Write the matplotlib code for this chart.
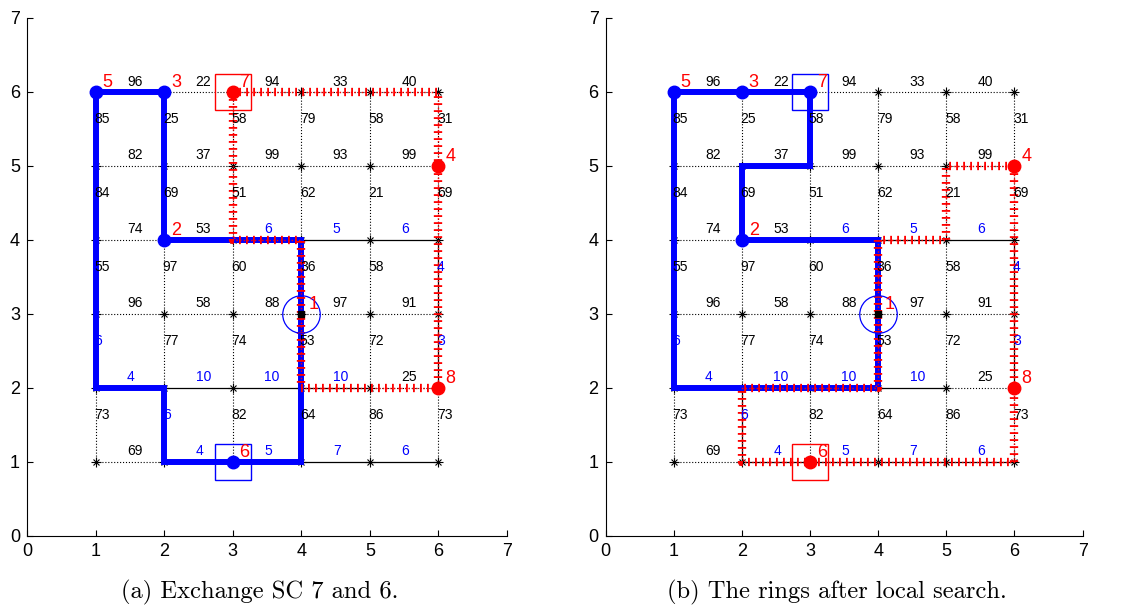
"""Two panels: distribution rings before and after the local search."""
import matplotlib
matplotlib.use('Agg')
import matplotlib.pyplot as plt

plt.rcParams['font.family'] = ['Liberation Sans', 'DejaVu Sans']

# grid nodes
grid_x = [1, 2, 3, 4, 5, 6]
grid_y = [1, 2, 3, 4, 5, 6]

# horizontal edge costs, one row per y (segments x=1-2 ... 5-6)
h_cost = {1: [69, 4, 5, 7, 6],
          2: [4, 10, 10, 10, 25],
          3: [96, 58, 88, 97, 91],
          4: [74, 53, 6, 5, 6],
          5: [82, 37, 99, 93, 99],
          6: [96, 22, 94, 33, 40]}
# 1 = existing line (solid, blue cost), 0 = candidate (dotted, black cost)
h_exist = {1: [0, 1, 1, 1, 1],
           2: [1, 1, 1, 1, 0],
           3: [0, 0, 0, 0, 0],
           4: [0, 0, 1, 1, 1],
           5: [0, 0, 0, 0, 0],
           6: [0, 0, 0, 0, 0]}

# vertical edge costs, one column per x (segments y=1-2 ... 5-6)
v_cost = {1: [73, 6, 55, 84, 85],
          2: [6, 77, 97, 69, 25],
          3: [82, 74, 60, 51, 58],
          4: [64, 53, 36, 62, 79],
          5: [86, 72, 58, 21, 58],
          6: [73, 3, 4, 69, 31]}
v_exist = {1: [0, 1, 0, 0, 0],
           2: [1, 0, 0, 0, 0],
           3: [0, 0, 0, 0, 0],
           4: [0, 0, 0, 0, 0],
           5: [0, 0, 0, 0, 0],
           6: [0, 1, 1, 0, 0]}

# switching centres
node_id = [5, 3, 7, 2, 1, 4, 8, 6]
node_x = [1, 2, 3, 2, 4, 6, 6, 3]
node_y = [6, 6, 6, 4, 3, 5, 2, 1]
root = 1

panels = [
    dict(caption='(a) Exchange SC 7 and 6.',
         blue_x=[1, 2, 2, 4, 4, 2, 2, 1, 1], blue_y=[6, 6, 4, 4, 1, 1, 2, 2, 6],
         red_x=[3, 3, 4, 4, 6, 6, 3], red_y=[6, 4, 4, 2, 2, 6, 6],
         blue_nodes=[5, 3, 2, 6], red_nodes=[7, 4, 8],
         boxes={7: 'red', 6: 'blue'}),
    dict(caption='(b) The rings after local search.',
         blue_x=[1, 2, 3, 3, 2, 2, 4, 4, 1, 1], blue_y=[6, 6, 6, 5, 5, 4, 4, 2, 2, 6],
         red_x=[6, 5, 5, 4, 4, 2, 2, 6, 6], red_y=[5, 5, 4, 4, 2, 2, 1, 1, 5],
         blue_nodes=[5, 3, 7, 2], red_nodes=[4, 8, 6],
         boxes={7: 'blue', 6: 'red'}),
]

BLUE = '#0000ff'
RED = '#ff0000'

fig = plt.figure(figsize=(11.34, 6.07), dpi=100)
axes_pos = [[0.0238, 0.1175, 0.4233, 0.853], [0.534, 0.1175, 0.4207, 0.853]]
cap_x = [0.2286, 0.738]


def pos(n):
    i = node_id.index(n)
    return node_x[i], node_y[i]


for p, rect, cx in zip(panels, axes_pos, cap_x):
    ax = fig.add_axes(rect)

    # grid edges and their costs
    for y in grid_y:
        for k in range(len(grid_x) - 1):
            x0, x1 = grid_x[k], grid_x[k + 1]
            ex = h_exist[y][k]
            ax.plot([x0, x1], [y, y], color='black', lw=0.9 if ex else 0.8,
                    ls='-' if ex else ':', zorder=1)
            ax.text(x0 + 0.46, y + 0.14, str(h_cost[y][k]), ha='left', va='center',
                    fontsize=10, color=BLUE if ex else 'black', zorder=6)
    for x in grid_x:
        for k in range(len(grid_y) - 1):
            y0, y1 = grid_y[k], grid_y[k + 1]
            ex = v_exist[x][k]
            ax.plot([x, x], [y0, y1], color='black', lw=0.9 if ex else 0.8,
                    ls='-' if ex else ':', zorder=1)
            ax.text(x - 0.02, y0 + 0.63, str(v_cost[x][k]), ha='left', va='center',
                    fontsize=10, color=BLUE if ex else 'black', zorder=6)

    # node asterisks
    gx = [x for x in grid_x for _ in grid_y]
    gy = [y for _ in grid_x for y in grid_y]
    ax.plot(gx, gy, ls='none', marker='+', ms=7, mew=0.8, color='black', zorder=2)
    ax.plot(gx, gy, ls='none', marker='x', ms=5, mew=0.8, color='black', zorder=2)

    # blue ring
    ax.plot(p['blue_x'], p['blue_y'], color=BLUE, lw=4.3, solid_joinstyle='miter', zorder=3)
    # red ring: thin dotted line with dense cross ticks
    ax.plot(p['red_x'], p['red_y'], color=RED, lw=1.0, ls=':', zorder=4)
    ax.plot(p['red_x'], p['red_y'], color=RED, lw=6, dashes=(0.22, 0.62),
            dash_capstyle='butt', zorder=4)

    # filled nodes
    bx, by = zip(*[pos(n) for n in p['blue_nodes']])
    ax.plot(bx, by, ls='none', marker='o', ms=9, color=BLUE, zorder=5)
    rx, ry = zip(*[pos(n) for n in p['red_nodes']])
    ax.plot(rx, ry, ls='none', marker='o', ms=9, color=RED, zorder=5)

    # root node
    sx, sy = pos(root)
    ax.plot([sx], [sy], ls='none', marker='s', ms=5, color='black', zorder=5)
    ax.plot([sx], [sy], ls='none', marker='o', ms=27, mfc='none', mec=BLUE, mew=0.9, zorder=5)

    # exchanged nodes
    for n, c in p['boxes'].items():
        qx, qy = pos(n)
        ax.plot([qx], [qy], ls='none', marker='s', ms=26, mfc='none', mec=c, mew=1.0, zorder=5)

    # node numbers
    for n, x, y in zip(node_id, node_x, node_y):
        ax.text(x + 0.1, y + 0.12, str(n), color=RED, fontsize=13, ha='left', va='center',
                zorder=7)

    ax.set_xlim(0, 7)
    ax.set_ylim(0, 7)
    ax.set_xticks(range(8))
    ax.set_yticks(range(8))
    ax.spines['top'].set_visible(False)
    ax.spines['right'].set_visible(False)
    ax.tick_params(direction='in', length=4, labelsize=13, pad=5)
    ax.patch.set_alpha(0)

    fig.text(cx, 0.024, p['caption'], family='cmr10', fontsize=17.7, ha='center', va='center')

fig.savefig('out.png', dpi=100)
